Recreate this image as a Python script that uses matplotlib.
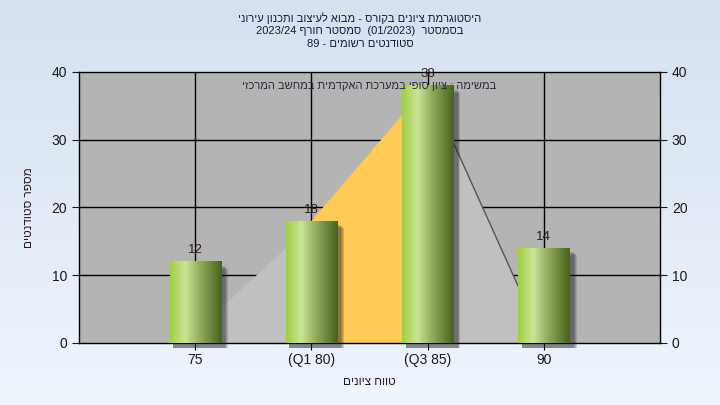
import matplotlib
matplotlib.use("Agg")
import matplotlib.pyplot as plt
import numpy as np
from matplotlib.colors import LinearSegmentedColormap

plt.rcParams['font.family'] = ['Liberation Sans', 'DejaVu Sans']

# data
categories = ['75', '(Q1 80)', '(Q3 85)', '90']
counts = [12, 18, 38, 14]
# light gray distribution outline behind the bars
dist_x = [0.9, 2, 3, 4]
dist_y = [0, 17.5, 38, 0]
# orange inter-quartile band
iqr_x = [2, 3]
iqr_y = [18, 38]

title_lines = ['היסטוגרמת ציונים בקורס - מבוא לעיצוב ותכנון עירוני',
               'בסמסטר  (01/2023)  סמסטר חורף 2023/24',
               'סטודנטים רשומים - 89']
note = 'במשימה : ציון סופי במערכת האקדמית במחשב המרכזי'
xlabel = 'טווח ציונים'
ylabel = 'מספר סטודנטים'


def vis(s):
    # matplotlib has no bidi: put hebrew words in visual order
    out = []
    for w in s.split(' ')[::-1]:
        if any('\u0590' <= c <= '\u05ff' for c in w):
            out.append(w[::-1])
        else:
            out.append(w)
    return ' '.join(out)


fig = plt.figure(figsize=(7.2, 4.05), dpi=100)

# background gradient
bg = fig.add_axes([0, 0, 1, 1], zorder=-10)
grad = np.linspace(0, 1, 256).reshape(-1, 1)
bg.imshow(grad, aspect='auto', extent=[0, 1, 0, 1], origin='upper',
          cmap=LinearSegmentedColormap.from_list('bg', ['#d5e1f1', '#eef5fd']))
bg.axis('off')

ax = fig.add_axes([79 / 720, 1 - 343 / 405, 581 / 720, 271 / 405])
ax.set_facecolor('#b4b4b4')
x = np.arange(1, len(categories) + 1)

for v in [10, 20, 30]:
    ax.axhline(v, color='k', lw=1, zorder=1)
for xi in x:
    ax.axvline(xi, color='k', lw=1, zorder=1)

ax.fill(dist_x, dist_y, color='#c0c0c0', zorder=2, lw=0)
ax.fill([iqr_x[0]] + iqr_x + [iqr_x[1]], [0] + iqr_y + [0], color='#ffca55', zorder=2, lw=0)
ax.plot(dist_x[2:], dist_y[2:], color='#555555', lw=1, zorder=2.5)

bar_cmap = LinearSegmentedColormap.from_list(
    'cyl', [(0, '#a2ce44'), (0.3, '#cbe596'), (0.55, '#98b062'), (1, '#46621c')])
bar_grad = np.linspace(0, 1, 200).reshape(1, -1)
w = 0.44
for xi, c in zip(x, counts):
    # soft shadow, a bit right of and below the bar
    for k in range(4):
        d = 0.008 + k * 0.008
        ax.add_patch(plt.Rectangle((xi - w / 2 + 0.03, -0.7), w + d, c + 0.1 - k * 0.15,
                                   color='#202020', alpha=0.16, lw=0, zorder=3,
                                   clip_on=False))
    ax.imshow(bar_grad, aspect='auto', cmap=bar_cmap,
              extent=[xi - w / 2, xi + w / 2, 0, c], zorder=4)
    ax.text(xi, c + 0.8, str(c), ha='center', va='bottom', fontsize=9.5,
            color='#2a1a1a', zorder=5)

ax.set_xlim(0, 5)
ax.set_ylim(0, 40)
ax.set_xticks(x)
ax.set_xticklabels(categories, fontsize=10, color='#1a1a1a')
ax.set_yticks([0, 10, 20, 30, 40])
ax.tick_params(axis='y', labelsize=10, colors='#1a1a1a', length=5, right=True, labelright=True)
ax.tick_params(axis='x', length=5, pad=2)
for s in ax.spines.values():
    s.set_color('k')
    s.set_linewidth(1)

ax.set_xlabel(vis(xlabel), fontsize=8.5, color='#2a1a2a', labelpad=7)
ax.set_ylabel(vis(ylabel), fontsize=8.5, color='#2a1a2a', labelpad=12)

ax.text(0.5, 0.95, vis(note), transform=ax.transAxes, ha='center', va='center',
        fontsize=8, color='#2a2a3a', zorder=6)

for i, t in enumerate(title_lines):
    fig.text(0.5, 1 - (18 + 13 * i) / 405, vis(t), ha='center', va='center',
             fontsize=8, color='#1a1a33')

fig.savefig('out.png', dpi=100)
